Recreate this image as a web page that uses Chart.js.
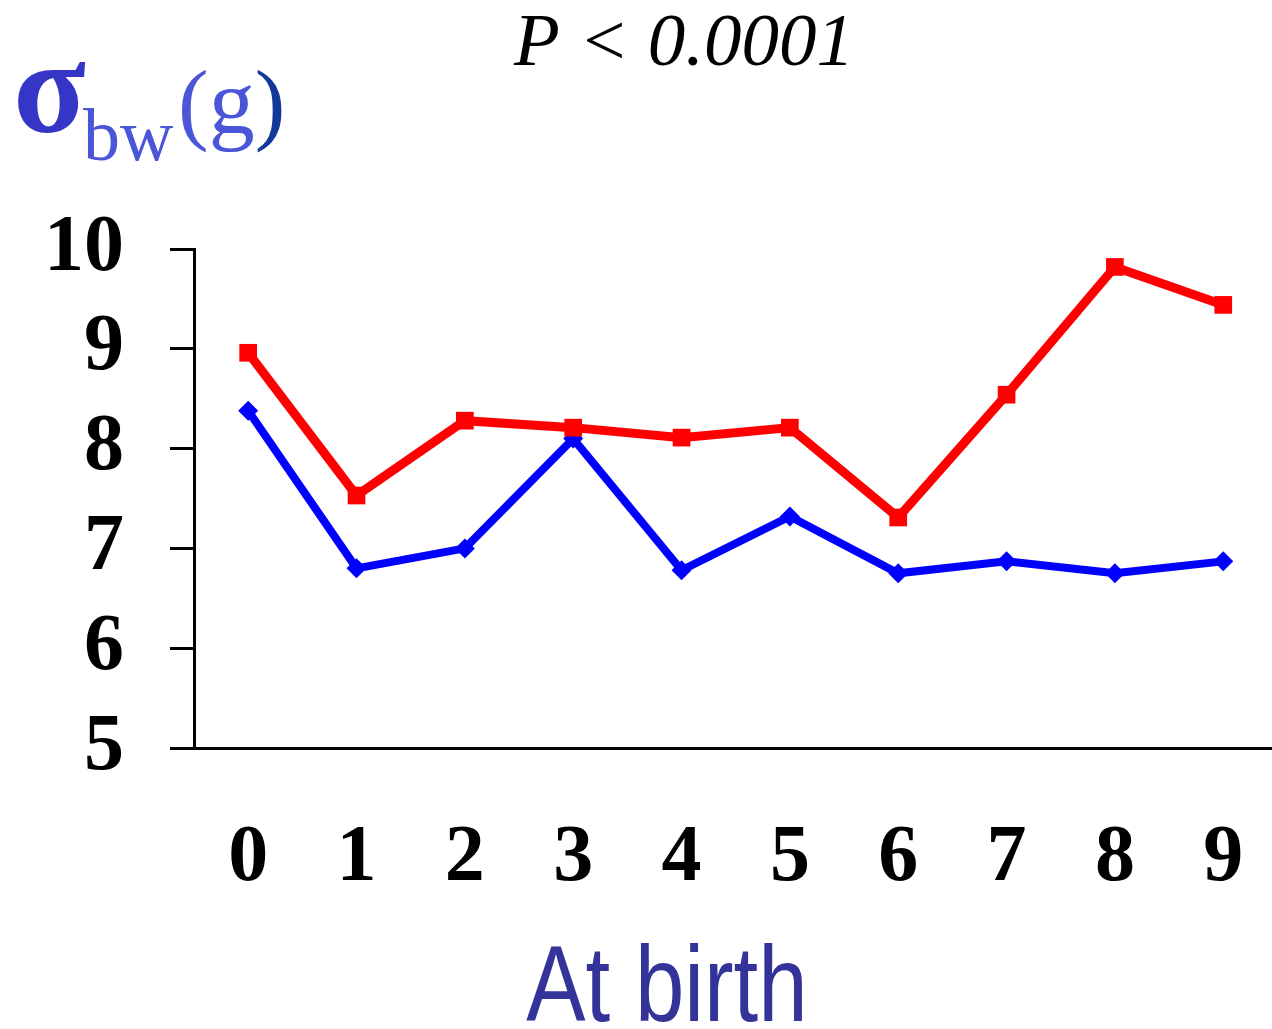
<!DOCTYPE html>
<html>
<head>
<meta charset="utf-8">
<script src="https://cdn.jsdelivr.net/npm/chart.js@4.4.1/dist/chart.umd.min.js"></script>
<style>
  html, body { margin: 0; padding: 0; background: #fff; }
  canvas { display: block; }
</style>
</head>
<body>
<canvas id="sigma-chart" width="1272" height="1029"></canvas>
<script>
// values
const categories = ['0', '1', '2', '3', '4', '5', '6', '7', '8', '9'];
const redSeries = [8.96, 7.53, 8.28, 8.21, 8.11, 8.21, 7.31, 8.54, 9.82, 9.44];
const blueSeries = [8.38, 6.80, 7.00, 8.10, 6.78, 7.32, 6.75, 6.87, 6.75, 6.87];
const yTicks = [5, 6, 7, 8, 9, 10];
const titleText = 'P < 0.0001';
const xTitleText = 'At birth';

function toPoints( values )
{
    return values.map( ( v, i ) => ( { x: i, y: v } ) );
}

// title, axis title and the sigma label with its subscript
const labelsPlugin = {
    id: 'labelsPlugin',
    afterDraw( chart ) {
        const ctx = chart.ctx;
        ctx.save();
        ctx.textBaseline = 'alphabetic';

        ctx.fillStyle = '#000';
        ctx.textAlign = 'center';
        ctx.font = 'italic 75px "Liberation Serif", "Times New Roman", serif';
        ctx.fillText( titleText, 684, 65 );

        // narrow sans look for the x title
        ctx.save();
        ctx.translate( 667, 1021 );
        ctx.scale( 0.83, 1 );
        ctx.fillStyle = '#333399';
        ctx.font = '107px "Liberation Sans", Arial, sans-serif';
        ctx.fillText( xTitleText, 0, 0 );
        ctx.restore();

        ctx.textAlign = 'left';
        ctx.fillStyle = '#3535c6';
        ctx.font = 'bold 134px "Liberation Serif", "Times New Roman", serif';
        ctx.fillText( 'σ', 13, 132 );
        ctx.fillStyle = '#4a55d8';
        ctx.font = '74px "Liberation Serif", "Times New Roman", serif';
        ctx.fillText( 'bw', 83, 160 );
        ctx.font = '92px "Liberation Serif", "Times New Roman", serif';
        ctx.fillText( '(g', 178, 133 );
        const w = ctx.measureText( '(g' ).width;
        ctx.fillStyle = '#123899';
        ctx.fillText( ')', 178 + w, 133 );
        ctx.restore();
    }
};

document.addEventListener('DOMContentLoaded', function(){

    const ctxSigma = document.getElementById('sigma-chart').getContext('2d');
    new Chart( ctxSigma, {
        type: 'line',
        data: {
            datasets: [
                {
                    data: toPoints( redSeries ),
                    borderColor: '#ff0000',
                    backgroundColor: '#ff0000',
                    borderWidth: 9,
                    pointStyle: 'rect',
                    pointRadius: 12.5,
                    pointBorderWidth: 0,
                    tension: 0,
                },
                {
                    data: toPoints( blueSeries ),
                    borderColor: '#0000ff',
                    backgroundColor: '#0000ff',
                    borderWidth: 8,
                    pointStyle: 'rectRot',
                    pointRadius: 10,
                    pointBorderWidth: 0,
                    tension: 0,
                }
            ]
        },
        options: {
            responsive: false,
            animation: false,
            devicePixelRatio: 1,
            layout: { autoPadding: false, padding: { top: 249, right: 0, bottom: 0, left: 0 } },
            plugins: {
                legend: { display: false },
                tooltip: { enabled: false },
                title: { display: false },
            },
            scales: {
                x: {
                    type: 'linear',
                    min: -0.5,
                    max: 9.45,
                    afterBuildTicks: scale => { scale.ticks = categories.map( ( c, i ) => ( { value: i } ) ); },
                    afterFit: scale => {
                        scale.height = 281;
                        scale.paddingLeft = 0;
                        scale.paddingRight = 0;
                    },
                    grid: { display: false, drawTicks: false },
                    border: { display: true, color: '#000', width: 3 },
                    ticks: {
                        callback: v => categories[v],
                        color: '#000',
                        padding: 63,
                        maxRotation: 0,
                        font: { family: '"Liberation Serif", "Times New Roman", serif', size: 80, weight: 'bold' },
                    },
                },
                y: {
                    min: yTicks[0],
                    max: yTicks[yTicks.length - 1],
                    afterBuildTicks: scale => { scale.ticks = yTicks.map( v => ( { value: v } ) ); },
                    afterFit: scale => { scale.width = 194; },
                    grid: { display: true, drawOnChartArea: false, drawTicks: true, tickLength: 24, color: '#000', lineWidth: 3 },
                    border: { display: true, color: '#000', width: 3 },
                    ticks: {
                        color: '#000',
                        padding: 46,
                        font: { family: '"Liberation Serif", "Times New Roman", serif', size: 80, weight: 'bold' },
                    },
                },
            },
        },
        plugins: [ labelsPlugin ],
    });

});
</script>
</body>
</html>
